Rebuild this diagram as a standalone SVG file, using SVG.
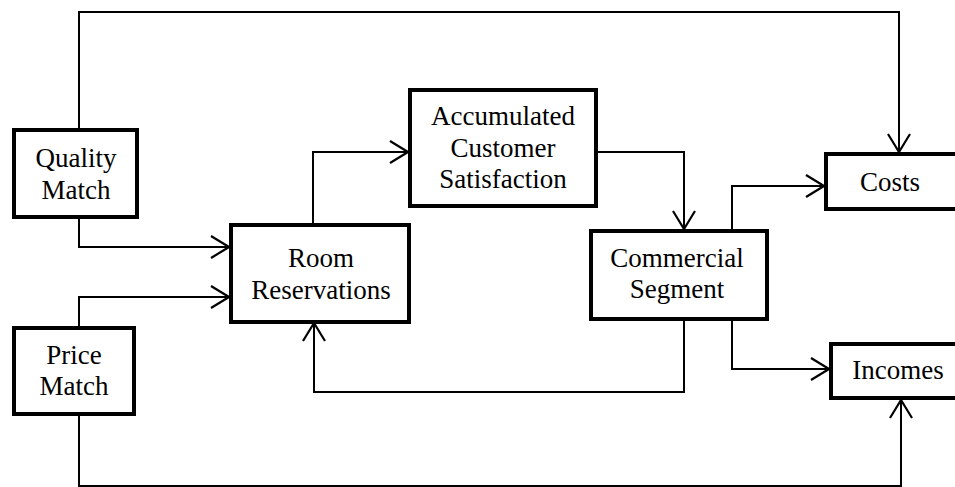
<svg xmlns="http://www.w3.org/2000/svg" width="955" height="487" viewBox="0 0 955 487">
  <style>
    .box { fill: #fff; stroke: #000; stroke-width: 4; }
    .lbl { font-family: "Liberation Serif", "Times New Roman", serif; font-size: 27px; fill: #000; text-anchor: middle; }
    .wire { fill: none; stroke: #000; stroke-width: 2; }
  </style>
  <defs>
    <marker id="vee" viewBox="0 0 20 24" refX="19" refY="12" markerWidth="20" markerHeight="24" markerUnits="userSpaceOnUse" orient="auto">
      <path d="M1,1 L19,12 L1,23" fill="none" stroke="#000" stroke-width="2.2"/>
    </marker>
  </defs>

  <rect width="955" height="487" fill="#fff"/>

  <g id="connectors">
    <!-- Quality Match to Costs over the top -->
    <path class="wire" d="M79,129 V12 H899 V152" marker-end="url(#vee)"/>
    <!-- Quality Match to Room Reservations -->
    <path class="wire" d="M79,218 V247 H229" marker-end="url(#vee)"/>
    <!-- Price Match to Room Reservations -->
    <path class="wire" d="M79,327 V297 H229" marker-end="url(#vee)"/>
    <!-- Price Match to Incomes along the bottom -->
    <path class="wire" d="M79,414 V486 H901 V400" marker-end="url(#vee)"/>
    <!-- Room Reservations to Accumulated Customer Satisfaction -->
    <path class="wire" d="M313,224 V152 H408" marker-end="url(#vee)"/>
    <!-- Accumulated Customer Satisfaction to Commercial Segment -->
    <path class="wire" d="M596,152 H684 V229" marker-end="url(#vee)"/>
    <!-- Commercial Segment to Costs -->
    <path class="wire" d="M732,230 V186 H824" marker-end="url(#vee)"/>
    <!-- Commercial Segment to Incomes -->
    <path class="wire" d="M732,319 V369 H829" marker-end="url(#vee)"/>
    <!-- Commercial Segment feedback to Room Reservations -->
    <path class="wire" d="M684,319 V392 H314 V323" marker-end="url(#vee)"/>
  </g>

  <g id="quality-match">
    <rect class="box" x="14" y="130" width="123" height="87"/>
    <text class="lbl" x="76" y="167">Quality</text>
    <text class="lbl" x="76" y="199">Match</text>
  </g>

  <g id="price-match">
    <rect class="box" x="14" y="328" width="120" height="86"/>
    <text class="lbl" x="74" y="364">Price</text>
    <text class="lbl" x="74" y="395">Match</text>
  </g>

  <g id="room-reservations">
    <rect class="box" x="231" y="225" width="178" height="97"/>
    <text class="lbl" x="321" y="267">Room</text>
    <text class="lbl" x="321" y="299">Reservations</text>
  </g>

  <g id="accumulated-customer-satisfaction">
    <rect class="box" x="410" y="90" width="186" height="116"/>
    <text class="lbl" x="503" y="125">Accumulated</text>
    <text class="lbl" x="503" y="157">Customer</text>
    <text class="lbl" x="503" y="188">Satisfaction</text>
  </g>

  <g id="commercial-segment">
    <rect class="box" x="591" y="231" width="176" height="88"/>
    <text class="lbl" x="677" y="267">Commercial</text>
    <text class="lbl" x="677" y="298">Segment</text>
  </g>

  <g id="costs">
    <rect class="box" x="826" y="154" width="140" height="55"/>
    <text class="lbl" x="890" y="191">Costs</text>
  </g>

  <g id="incomes">
    <rect class="box" x="831" y="344" width="140" height="54"/>
    <text class="lbl" x="898" y="379">Incomes</text>
  </g>
</svg>
